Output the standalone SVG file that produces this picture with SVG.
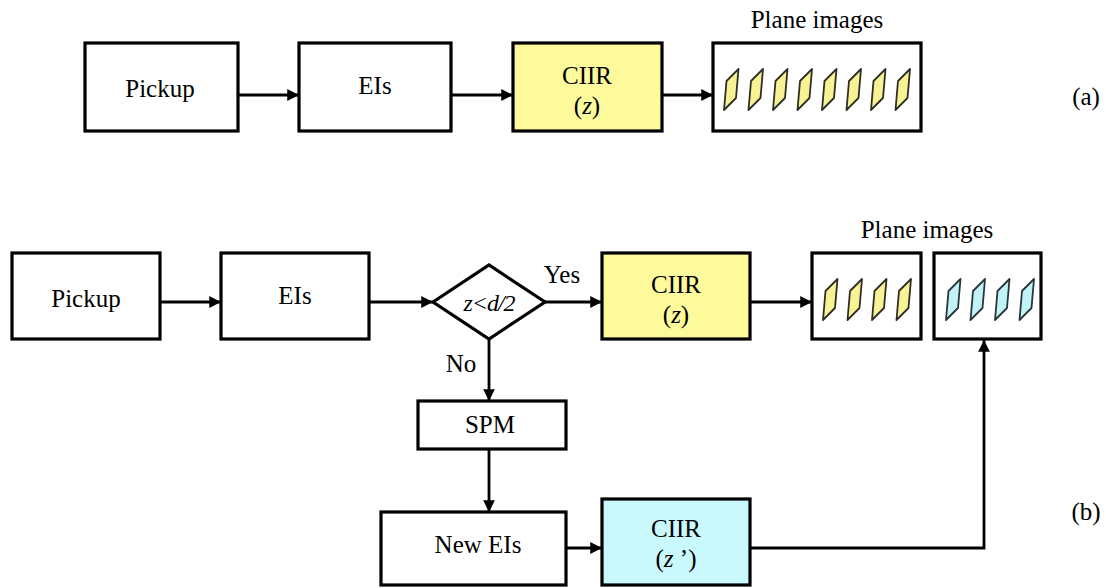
<svg xmlns="http://www.w3.org/2000/svg" width="1106" height="588" viewBox="0 0 1106 588">
<style>
.box{fill:#ffffff;stroke:#000;stroke-width:3.2}
.yel{fill:#fdfa9c;stroke:#000;stroke-width:3.2}
.cyn{fill:#c9f9fd;stroke:#000;stroke-width:3.2}
.lbl{font-family:"Liberation Serif","Times New Roman",serif;font-size:25px;fill:#000;text-anchor:middle}
.it{font-style:italic}
.conn{fill:none;stroke:#000;stroke-width:2.8}
.py{fill:#f7f294;stroke:#2e2e22;stroke-width:1.8;stroke-linejoin:round}
.pc{fill:#bff3f8;stroke:#2b3436;stroke-width:1.8;stroke-linejoin:round}
</style>
<defs>
<marker id="ah" viewBox="0 0 10 10" refX="10" refY="5" markerWidth="4.2" markerHeight="4.3" orient="auto" markerUnits="strokeWidth">
<path d="M0,0 L10,5 L0,10 z" fill="#000"/>
</marker>
<path id="pl" d="M0,0 L2.5,-29 L14.5,-41 L12,-12 Z"/>
</defs>

<g id="connectors">
<line class="conn" x1="238" y1="95" x2="299" y2="95" marker-end="url(#ah)"/>
<line class="conn" x1="451" y1="95" x2="513" y2="95" marker-end="url(#ah)"/>
<line class="conn" x1="662" y1="95" x2="713" y2="95" marker-end="url(#ah)"/>
<line class="conn" x1="160" y1="302" x2="221" y2="302" marker-end="url(#ah)"/>
<line class="conn" x1="369" y1="302" x2="433" y2="302" marker-end="url(#ah)"/>
<line class="conn" x1="545" y1="302" x2="602" y2="302" marker-end="url(#ah)"/>
<line class="conn" x1="750" y1="302" x2="812" y2="302" marker-end="url(#ah)"/>
<line class="conn" x1="489" y1="339" x2="489" y2="401" marker-end="url(#ah)"/>
<line class="conn" x1="489" y1="449" x2="489" y2="512" marker-end="url(#ah)"/>
<line class="conn" x1="566" y1="548" x2="602" y2="548" marker-end="url(#ah)"/>
<polyline class="conn" points="750,548 984,548 984,340" marker-end="url(#ah)"/>
</g>

<!-- (a) -->
<g id="a-pickup">
<rect class="box" x="85" y="43" width="153" height="88"/>
<text class="lbl" x="160" y="97">Pickup</text>
</g>
<g id="a-eis">
<rect class="box" x="299" y="43" width="152" height="88"/>
<text class="lbl" x="375" y="94">EIs</text>
</g>
<g id="a-ciir">
<rect class="yel" x="513" y="43" width="149" height="88"/>
<text class="lbl" x="587" y="84">CIIR</text>
<text class="lbl" x="587" y="114">(<tspan class="it">z</tspan>)</text>
</g>
<g id="a-planes">
<text class="lbl" x="817" y="28">Plane images</text>
<rect class="box" x="713" y="43" width="208" height="88"/>
<use href="#pl" class="py" x="724" y="110"/>
<use href="#pl" class="py" x="748.5" y="110"/>
<use href="#pl" class="py" x="773" y="110"/>
<use href="#pl" class="py" x="797.5" y="110"/>
<use href="#pl" class="py" x="822" y="110"/>
<use href="#pl" class="py" x="846.5" y="110"/>
<use href="#pl" class="py" x="871" y="110"/>
<use href="#pl" class="py" x="895.5" y="110"/>
</g>
<text class="lbl" x="1086" y="105">(a)</text>

<!-- (b) -->
<g id="b-pickup">
<rect class="box" x="12" y="253" width="148" height="86"/>
<text class="lbl" x="86" y="307">Pickup</text>
</g>
<g id="b-eis">
<rect class="box" x="221" y="253" width="148" height="86"/>
<text class="lbl" x="295" y="304">EIs</text>
</g>
<g id="b-decision">
<polygon class="box" points="433,302 489,265 545,302 489,339"/>
<text class="lbl it" x="489" y="311" style="font-size:24px;letter-spacing:-1px">z&lt;d/2</text>
</g>
<text class="lbl" x="562" y="283">Yes</text>
<text class="lbl" x="461" y="372">No</text>
<g id="b-ciir">
<rect class="yel" x="602" y="253" width="148" height="86"/>
<text class="lbl" x="676" y="293">CIIR</text>
<text class="lbl" x="676" y="323">(<tspan class="it">z</tspan>)</text>
</g>
<text class="lbl" x="927" y="238">Plane images</text>
<g id="b-planes1">
<rect class="box" x="812" y="253" width="109" height="86"/>
<use href="#pl" class="py" x="823" y="320"/>
<use href="#pl" class="py" x="847.5" y="320"/>
<use href="#pl" class="py" x="872" y="320"/>
<use href="#pl" class="py" x="896.5" y="320"/>
</g>
<g id="b-planes2">
<rect class="box" x="934" y="253" width="107" height="86"/>
<use href="#pl" class="pc" x="946" y="320"/>
<use href="#pl" class="pc" x="970.5" y="320"/>
<use href="#pl" class="pc" x="995" y="320"/>
<use href="#pl" class="pc" x="1019.5" y="320"/>
</g>
<g id="b-spm">
<rect class="box" x="418" y="401" width="148" height="48"/>
<text class="lbl" x="490" y="433">SPM</text>
</g>
<g id="b-neweis">
<rect class="box" x="381" y="512" width="185" height="73"/>
<text class="lbl" x="478" y="553">New EIs</text>
</g>
<g id="b-ciir2">
<rect class="cyn" x="602" y="499" width="148" height="86"/>
<text class="lbl" x="676" y="537">CIIR</text>
<text class="lbl" x="676" y="567">(<tspan class="it">z</tspan> ’)</text>
</g>
<text class="lbl" x="1086" y="520">(b)</text>
</svg>
